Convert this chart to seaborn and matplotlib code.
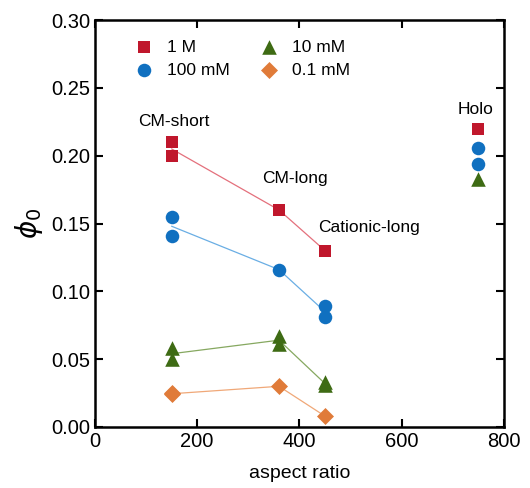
import pandas as pd
import matplotlib
matplotlib.use("Agg")
import matplotlib.pyplot as plt
import seaborn as sns

# Measured phi_0 values per sample (aspect ratio) and salt concentration
aspect = [150, 150, 360, 450, 750,
          150, 150, 360, 450, 450, 750, 750,
          150, 150, 360, 360, 450, 450, 750,
          150, 150, 360, 450]
phi0 = [0.210, 0.200, 0.160, 0.130, 0.220,
        0.155, 0.141, 0.116, 0.089, 0.081, 0.206, 0.194,
        0.058, 0.050, 0.067, 0.061, 0.033, 0.031, 0.183,
        0.025, 0.024, 0.030, 0.008]
salt = (["1 M"] * 5 + ["100 mM"] * 7 + ["10 mM"] * 7 + ["0.1 mM"] * 4)

salt_order = ["1 M", "100 mM", "10 mM", "0.1 mM"]
marker_colors = ["#C0172C", "#1070C0", "#3E6B14", "#E07B39"]
line_colors = ["#E4707C", "#6AAEE4", "#86A860", "#F0A878"]
markers = ["s", "o", "^", "D"]
sizes = [70, 95, 110, 75]

sample_labels = ["CM-short", "CM-long", "Cationic-long", "Holo"]
label_x = [84, 327, 436, 710]
label_y = [0.225, 0.183, 0.147, 0.234]

df = pd.DataFrame({"aspect": aspect, "phi0": phi0, "salt": salt})

sns.set_style("ticks")
plt.rcParams["font.family"] = ["Liberation Sans", "DejaVu Sans"]
plt.rcParams["text.color"] = "black"
plt.rcParams["axes.labelcolor"] = "black"
plt.rcParams["xtick.color"] = "black"
plt.rcParams["ytick.color"] = "black"

fig = plt.figure(figsize=(5.30, 4.88), dpi=100)
ax = fig.add_axes([0.179, 0.125, 0.772, 0.834])

# Mean lines through the three rod samples (Holo is not connected)
rods = df[df["aspect"] < 700]
sns.lineplot(data=rods, x="aspect", y="phi0", hue="salt", hue_order=salt_order,
             palette=line_colors, estimator="mean", errorbar=None,
             linewidth=0.9, legend=False, ax=ax)

for s, c, m, sz in zip(salt_order, marker_colors, markers, sizes):
    sub = df[df["salt"] == s]
    sns.scatterplot(data=sub, x="aspect", y="phi0", color=c, marker=m, s=sz,
                    linewidth=0, label=s, ax=ax, zorder=3)

for t, x, y in zip(sample_labels, label_x, label_y):
    ax.text(x, y, t, fontsize=12.5, ha="left", va="center")

ax.set_xlim(0, 800)
ax.set_ylim(0, 0.30)
ax.set_xticks([0, 200, 400, 600, 800])
ax.set_yticks([0, 0.05, 0.10, 0.15, 0.20, 0.25, 0.30])
ax.set_yticklabels(["0.00", "0.05", "0.10", "0.15", "0.20", "0.25", "0.30"])
ax.tick_params(direction="in", length=6, width=1.5, labelsize=14.5,
               top=True, right=True)
for sp in ax.spines.values():
    sp.set_linewidth(1.8)
    sp.set_color("black")

ax.set_xlabel("aspect ratio", fontsize=14, labelpad=10)
ax.set_ylabel(r"$\phi_0$", fontsize=20, labelpad=4)

ax.legend(loc="upper left", ncol=2, frameon=False, fontsize=12.5,
          bbox_to_anchor=(0.04, 0.99), columnspacing=1.3, handletextpad=0.3,
          labelspacing=0.45)

fig.savefig("out.png", dpi=100)
